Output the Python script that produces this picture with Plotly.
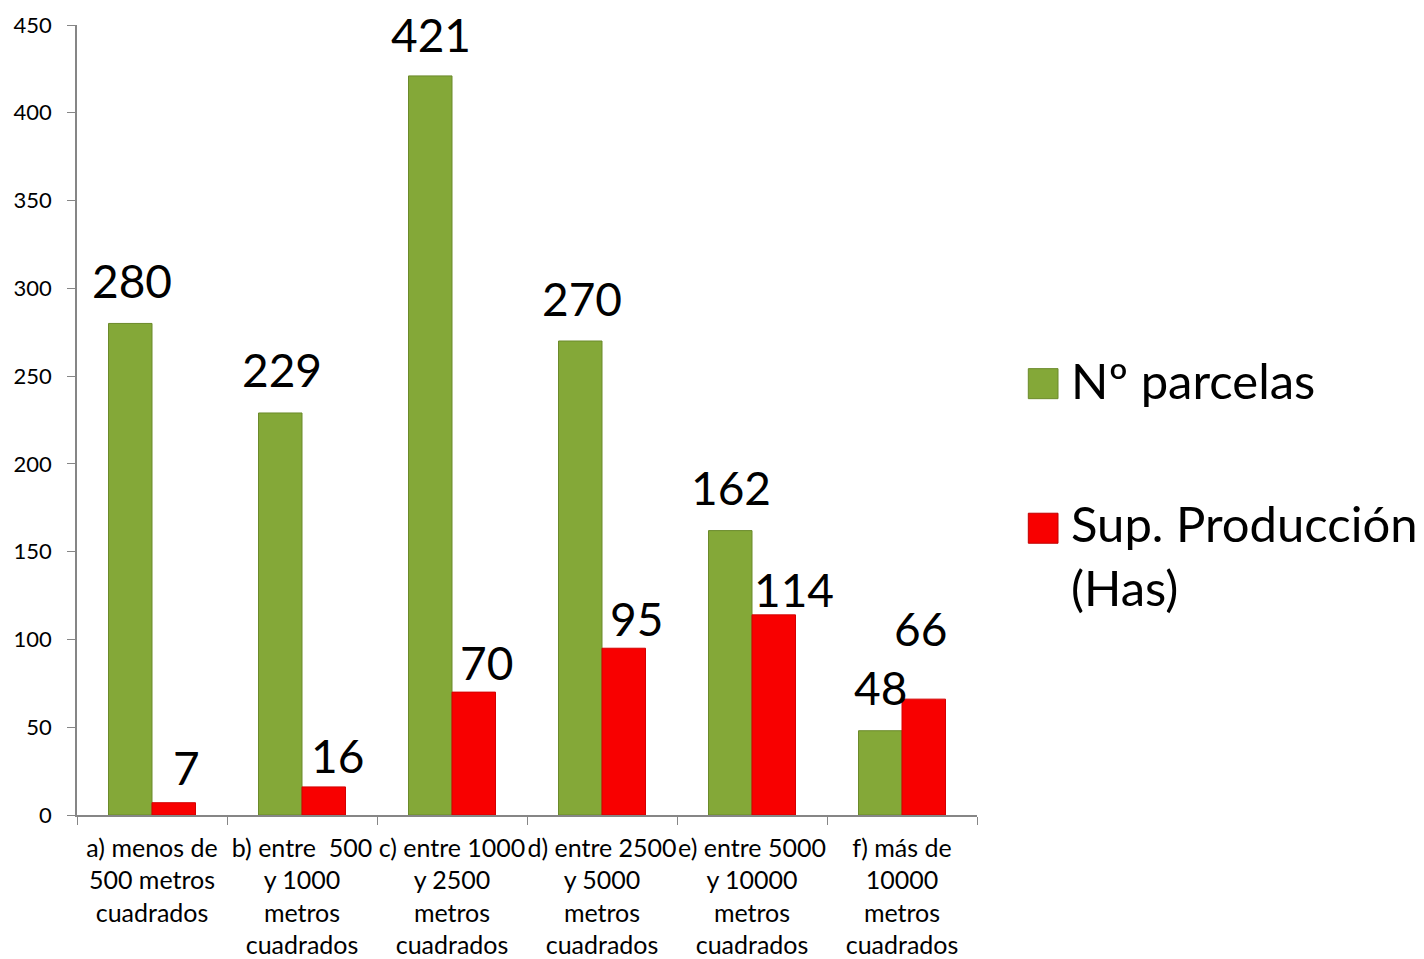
import plotly.graph_objects as go

categories = [
    "a) menos de<br>500 metros<br>cuadrados",
    "b) entre  500<br>y 1000<br>metros<br>cuadrados",
    "c) entre 1000<br>y 2500<br>metros<br>cuadrados",
    "d) entre 2500<br>y 5000<br>metros<br>cuadrados",
    "e) entre 5000<br>y 10000<br>metros<br>cuadrados",
    "f) más de<br>10000<br>metros<br>cuadrados",
]
parcelas = [280, 229, 421, 270, 162, 48]
superficie = [7, 16, 70, 95, 114, 66]
series_names = ["Nº parcelas", "Sup. Producción<br>(Has)"]
y_ticks = [0, 50, 100, 150, 200, 250, 300, 350, 400, 450]

FONT = "Lato, 'Open Sans', sans-serif"
GREEN = "#84A838"
RED = "#F80000"

fig = go.Figure()
fig.add_trace(go.Bar(
    x=categories, y=parcelas, name=series_names[0],
    marker=dict(color=GREEN, line=dict(color="#6B8A2A", width=1)),
    showlegend=False,
))
fig.add_trace(go.Bar(
    x=categories, y=superficie, name=series_names[1],
    marker=dict(color=RED, line=dict(color="#D40000", width=1)),
    showlegend=False,
))

# data labels (pixel offsets from bar top / category centre)
green_off = [(-20, 43), (-20, 43), (-21, 41), (-20, 43), (-21, 43), (-22, 43)]
red_off = [(34, 35), (35, 31), (34, 30), (34, 30), (42, 25), (18, 71)]
for cat, v, (dx, dy) in zip(categories, parcelas, green_off):
    fig.add_annotation(x=cat, y=v, text=str(v), showarrow=False,
                       xshift=dx, yshift=dy, yanchor="middle",
                       font=dict(family=FONT, size=46, color="black"))
for cat, v, (dx, dy) in zip(categories, superficie, red_off):
    fig.add_annotation(x=cat, y=v, text=str(v), showarrow=False,
                       xshift=dx, yshift=dy, yanchor="middle",
                       font=dict(family=FONT, size=46, color="black"))

# legend (swatches + real text)
legend_items = [(series_names[0], GREEN, "#6B8A2A", 0.546, 0.044),
                (series_names[1], RED, "#C00000", 0.363, 0.046)]
for name, col, edge, yc, ty in legend_items:
    fig.add_shape(type="rect", xref="paper", yref="paper",
                  x0=1.057, x1=1.090, y0=yc - 0.019, y1=yc + 0.019,
                  fillcolor=col, line=dict(color=edge, width=1))
    fig.add_annotation(xref="paper", yref="paper", x=1.102, y=yc + ty,
                       text=name, showarrow=False, xanchor="left", yanchor="top",
                       align="left",
                       font=dict(family=FONT, size=49, color="black"))

fig.update_layout(
    width=1424, height=959,
    margin=dict(l=77, r=447, t=25, b=144, autoexpand=False),
    paper_bgcolor="white", plot_bgcolor="white",
    barmode="group", bargap=0.42, bargroupgap=0,
    font=dict(family=FONT, color="black"),
    showlegend=False,
)
fig.update_xaxes(
    showline=True, linecolor="#868686", linewidth=1.5,
    ticks="outside", tickson="boundaries", ticklen=8, tickcolor="#868686",
    tickfont=dict(family=FONT, size=25, color="black"),
    tickangle=0, automargin=False,
    ticklabelstandoff=10,
    showgrid=False,
)
fig.update_yaxes(
    range=[0, 450], tickvals=y_ticks,
    showline=True, linecolor="#868686", linewidth=1.5,
    ticks="outside", ticklen=8, tickcolor="#868686",
    tickfont=dict(family=FONT, size=22, color="black"),
    ticklabelstandoff=11, automargin=False,
    showgrid=False, zeroline=False,
)

fig.write_html("out.html")
